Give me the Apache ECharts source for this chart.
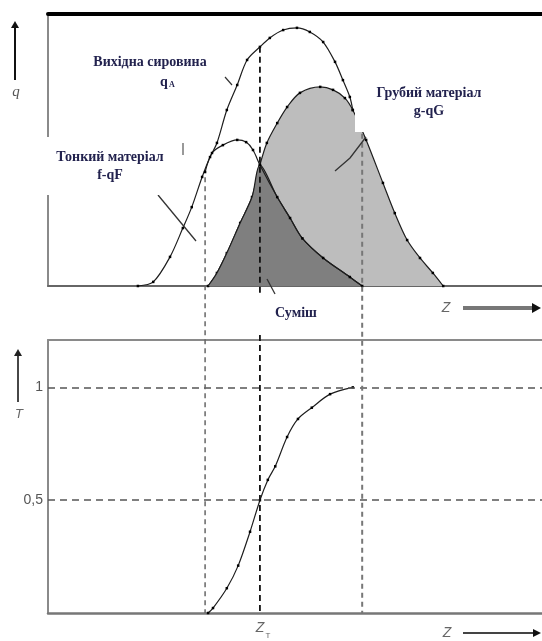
<!DOCTYPE html>
<html><head><meta charset="utf-8">
<script src="https://cdn.jsdelivr.net/npm/echarts@6/dist/echarts.min.js"></script>
<style>html,body{margin:0;padding:0;background:#fff}#c{width:542px;height:641px}</style>
</head><body><div id="c"></div>
<script>
// ---- data (Z in relative units 0..100, q in relative units 0..100) ----
const feed = [[18.2,0],[21.3,1.5],[24.7,10.7],[27.3,21.3],[29.1,29.0],[31.2,40.1],[32.8,47.4],[34.2,52.6],[36.2,64.7],[38.3,73.9],[40.3,83.1],[42.9,87.9],[44.9,91.2],[47.6,94.1],[50.4,94.9],[53.0,93.4],[55.7,89.7],[58.1,82.4],[59.7,75.7],[61.1,69.5],[61.7,64.7]];
const fine = [[31.8,41.9],[33.2,48.9],[35.4,51.8],[38.3,53.7],[40.1,52.9],[41.5,50.0],[42.9,44.5],[46.4,32.7],[49.0,25.0],[51.5,17.5],[55.7,10.3],[61.1,3.3],[63.6,0]];
const coarse = [[32.4,0],[34.2,4.8],[36.2,12.1],[38.9,23.2],[41.3,32.7],[42.9,44.5],[44.3,52.6],[46.4,59.9],[48.4,65.8],[51.0,71.0],[55.1,73.2],[57.7,72.1],[60.1,69.1],[61.7,64.7],[64.4,53.7],[67.8,37.9],[70.2,26.8],[72.7,16.9],[75.3,10.3],[77.9,4.8],[80.0,0]];
const separation = [[32.4,0],[33.4,0.022],[36.2,0.11],[38.5,0.21],[40.9,0.36],[42.9,0.5],[44.5,0.59],[46.0,0.65],[48.4,0.78],[50.6,0.86],[53.4,0.91],[57.1,0.97],[61.7,1.0]];
const cutPoints = [31.8, 42.9, 63.6];   // lower cut, Z_T, upper cut
const cutTops = [40, 88, 56];           // q value where each dashed line starts
const tLevels = [0.5, 1];
const tTickLabels = {'0.5':'0,5', '1':'1'};

const mixture = coarse.filter(p => p[0] <= cutPoints[1]).concat(fine.filter(p => p[0] > cutPoints[1]));

const lineCol = '#1e1e1e';
const noAx = {axisTick:{show:false}, axisLabel:{show:false}, splitLine:{show:false}};
const curveBase = {type:'line', smooth:0.3, symbol:'rect', symbolSize:2.5, itemStyle:{color:'#000'}, lineStyle:{color:lineCol, width:1.2}, silent:true};

const chart = echarts.init(document.getElementById('c'));
chart.setOption({
  animation:false,
  grid:[{left:48, right:0, top:14, height:272}, {left:48, right:0, top:340, height:273}],
  xAxis:[
    Object.assign({gridIndex:0, type:'value', min:0, max:100, position:'bottom', axisLine:{show:true, onZero:false, lineStyle:{color:'#666', width:2}}}, noAx),
    Object.assign({gridIndex:0, type:'value', min:0, max:100, position:'top', axisLine:{show:true, onZero:false, lineStyle:{color:'#000', width:4}}}, noAx),
    Object.assign({gridIndex:1, type:'value', min:0, max:100, position:'bottom', axisLine:{show:true, onZero:false, lineStyle:{color:'#777', width:2.5}}}, noAx),
    Object.assign({gridIndex:1, type:'value', min:0, max:100, position:'top', axisLine:{show:true, onZero:false, lineStyle:{color:'#8a8a8a', width:2}}}, noAx)
  ],
  yAxis:[
    Object.assign({gridIndex:0, type:'value', min:0, max:100, axisLine:{show:true, onZero:false, lineStyle:{color:'#8a8a8a', width:2}}}, noAx),
    {gridIndex:1, type:'value', min:0, max:1.21, interval:0.5,
     axisLine:{show:true, onZero:false, lineStyle:{color:'#8a8a8a', width:2}},
     axisTick:{show:false}, splitLine:{show:false},
     axisLabel:{margin:5, color:'#555', fontSize:14, fontFamily:'Liberation Sans', formatter:v => tTickLabels[String(+v.toFixed(2))] || ''}}
  ],
  series:[
    Object.assign({}, curveBase, {name:'Грубий матеріал', xAxisIndex:0, yAxisIndex:0, data:coarse, areaStyle:{color:'#bdbdbd', opacity:1}, z:2}),
    {type:'line', name:'Суміш', xAxisIndex:0, yAxisIndex:0, data:mixture, smooth:0.3, showSymbol:false, areaStyle:{color:'#7f7f7f', opacity:1}, lineStyle:{color:lineCol, width:1.2}, z:3, silent:true},
    Object.assign({}, curveBase, {name:'Тонкий матеріал', xAxisIndex:0, yAxisIndex:0, data:fine, z:4}),
    Object.assign({}, curveBase, {name:'Вихідна сировина', xAxisIndex:0, yAxisIndex:0, data:feed, z:4}),
    Object.assign({}, curveBase, {name:'T', xAxisIndex:2, yAxisIndex:1, data:separation, z:4,
      markLine:{silent:true, symbol:['none','none'], label:{show:false},
        lineStyle:{color:'#555', width:1.5, type:[7,5]},
        data:tLevels.map(v => ({yAxis:v}))}})
  ]
});

// ---- annotation graphics ----
const P0 = (x,y) => chart.convertToPixel({xAxisIndex:0, yAxisIndex:0}, [x,y]);
const P1 = (x,y) => chart.convertToPixel({xAxisIndex:2, yAxisIndex:1}, [x,y]);
const g = [];
const ln = (x1,y1,x2,y2,stroke,w,dash,z) => g.push({type:'line', shape:{x1,y1,x2,y2}, style:{stroke, lineWidth:w, lineDash:dash||null}, z:z||50, silent:true});
const txt = (x,y,text,font,fill,align) => g.push({type:'text', x, y, style:{text, font, fill, align:align||'center', verticalAlign:'middle'}, z:120, silent:true});

const g0bottom = P0(0,0)[1];
const g1top = P1(0,1.21)[1];
const g1bottom = P1(0,0)[1];
// vertical cut lines
const cLow = P0(cutPoints[0], cutTops[0]);
ln(cLow[0], cLow[1], cLow[0], g1bottom, '#666', 1.5, [5,4]);
const cT = P0(cutPoints[1], cutTops[1]);
ln(cT[0], cT[1], cT[0], g0bottom+9, '#111', 1.8, [6,4]);
ln(cT[0], g1top-5, cT[0], g1bottom, '#111', 1.8, [6,4]);
const cHigh = P0(cutPoints[2], cutTops[2]);
ln(cHigh[0], cHigh[1], cHigh[0], g1bottom, '#777', 2, [5,4]);

// white label boxes
g.push({type:'rect', shape:{x:38, y:137, width:134, height:58}, style:{fill:'#fff'}, z:100, silent:true});
g.push({type:'rect', shape:{x:355, y:60, width:150, height:72}, style:{fill:'#fff'}, z:100, silent:true});

const tc = '#22224e';
const lf = 'bold 14px "Liberation Serif"';
txt(150, 62, 'Вихідна сировина', lf, tc);
txt(164, 82, 'q', lf, tc);
txt(172, 85, 'A', 'bold 8px "Liberation Serif"', tc);
txt(110, 157, 'Тонкий матеріал', lf, tc);
txt(110, 175, 'f-qF', lf, tc);
txt(429, 93, 'Грубий матеріал', lf, tc);
txt(429, 111, 'g-qG', lf, tc);
txt(296, 313, 'Суміш', lf, tc);

// leader lines
ln(225, 77, 232, 85, '#333', 1.2);
ln(158, 195, 196, 241, '#333', 1.3);
g.push({type:'polyline', shape:{points:[[335,171],[350,158],[366,137]]}, style:{stroke:'#333', lineWidth:1.3, fill:null}, z:120, silent:true});
ln(267, 279, 275, 294, '#333', 1.3);
ln(183, 143, 183, 155, '#999', 2);

// axis arrows and labels
ln(15, 80, 15, 27, '#111', 2, null, 120);
g.push({type:'polygon', shape:{points:[[11,28],[15,21],[19,28]]}, style:{fill:'#111'}, z:120, silent:true});
txt(16, 92, 'q', 'italic 15px "Liberation Serif"', '#555');
ln(18, 402, 18, 355, '#333', 1.8, null, 120);
g.push({type:'polygon', shape:{points:[[14,356],[18,349],[22,356]]}, style:{fill:'#222'}, z:120, silent:true});
txt(19, 414, 'T', 'italic 13px "Liberation Sans"', '#666');

txt(446, 308, 'Z', 'italic 14px "Liberation Sans"', '#666');
ln(463, 308, 533, 308, '#777', 4, null, 120);
g.push({type:'polygon', shape:{points:[[532,303],[541,308],[532,313]]}, style:{fill:'#111'}, z:121, silent:true});
txt(447, 633, 'Z', 'italic 14px "Liberation Sans"', '#666');
ln(463, 633, 533, 633, '#444', 2, null, 120);
g.push({type:'polygon', shape:{points:[[533,629],[541,633],[533,637]]}, style:{fill:'#111'}, z:121, silent:true});

txt(cT[0], 628, 'Z', 'italic 14px "Liberation Sans"', '#666');
txt(cT[0]+8, 636, 'T', '8px "Liberation Sans"', '#666');

chart.setOption({graphic:g});
</script></body></html>
